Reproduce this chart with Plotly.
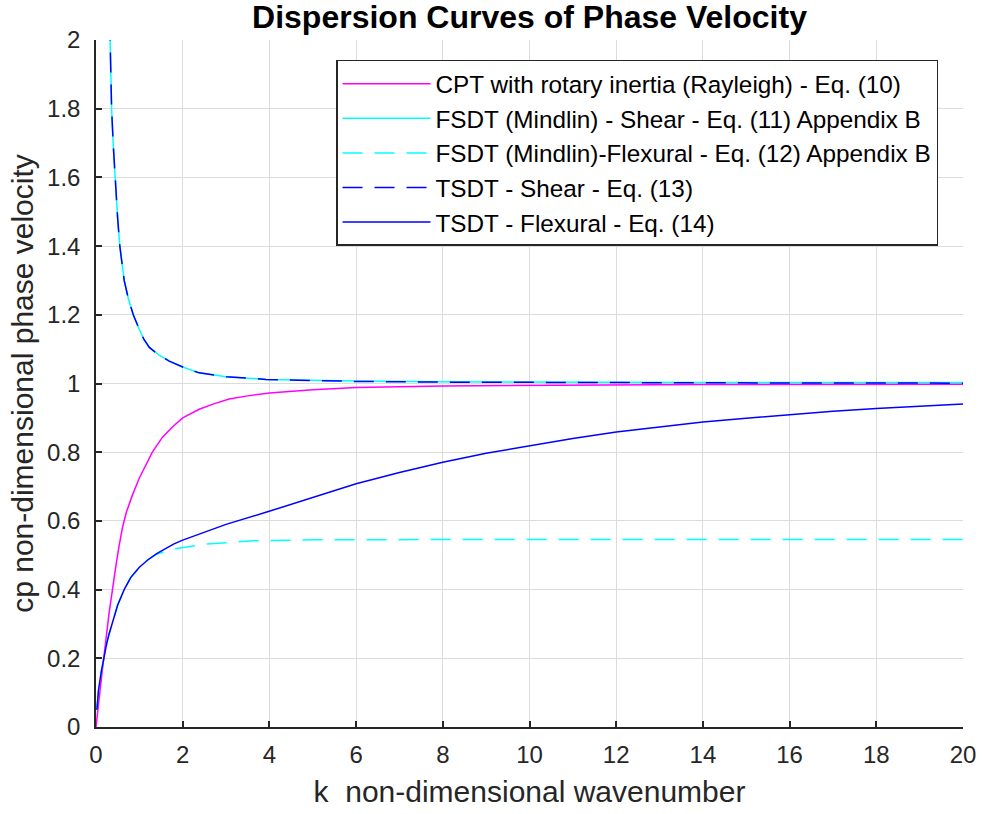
import plotly.graph_objects as go

# ---- data ----
k_cpt = [0, 0.05, 0.15, 0.3, 0.38, 0.46, 0.53, 0.61, 0.7, 0.84, 1.0, 1.15, 1.3, 1.53, 1.75, 2.0, 2.38, 2.7, 3.07, 3.5, 4.0, 5.0, 6.0, 8.0, 10.0, 14.0, 20.0]
c_cpt = [0, 0.06, 0.17, 0.33, 0.405, 0.47, 0.525, 0.58, 0.625, 0.675, 0.725, 0.765, 0.80, 0.843, 0.872, 0.90, 0.925, 0.94, 0.955, 0.964, 0.972, 0.982, 0.988, 0.993, 0.995, 0.997, 0.998]

k_shear = [0.30, 0.32, 0.34, 0.36, 0.40, 0.44, 0.50, 0.55, 0.60, 0.65, 0.75, 0.86, 0.99, 1.1, 1.23, 1.45, 1.69, 2.0, 2.38, 3.0, 3.92, 5.0, 6.0, 8.0, 10.0, 14.0, 20.0]
c_fsdt_shear = [2.15, 2.0, 1.89, 1.8, 1.69, 1.6, 1.48, 1.4, 1.345, 1.30, 1.245, 1.2, 1.16, 1.13, 1.105, 1.083, 1.065, 1.048, 1.031, 1.02, 1.012, 1.009, 1.007, 1.005, 1.004, 1.003, 1.003]
c_tsdt_shear = [2.15, 2.0, 1.89, 1.8, 1.69, 1.6, 1.48, 1.4, 1.345, 1.30, 1.245, 1.2, 1.16, 1.13, 1.105, 1.083, 1.065, 1.048, 1.031, 1.02, 1.012, 1.008, 1.006, 1.004, 1.003, 1.002, 1.001]

k_fsdt_flex = [0.02, 0.06, 0.12, 0.185, 0.25, 0.3, 0.4, 0.5, 0.65, 0.8, 1.0, 1.2, 1.4, 1.76, 2.5, 3.6, 5.0, 7.0, 10.0, 14.0, 20.0]
c_fsdt_flex = [0.05, 0.11, 0.16, 0.205, 0.245, 0.27, 0.315, 0.355, 0.40, 0.435, 0.465, 0.487, 0.503, 0.518, 0.532, 0.542, 0.545, 0.546, 0.546, 0.546, 0.546]

k_tsdt_flex = [0.02, 0.06, 0.12, 0.185, 0.25, 0.3, 0.4, 0.5, 0.65, 0.8, 1.0, 1.2, 1.4, 1.6, 1.8, 2.0, 2.38, 3.0, 3.92, 5.0, 6.0, 7.0, 8.0, 9.0, 10.0, 11.0, 12.0, 13.0, 14.0, 15.0, 16.0, 17.0, 18.0, 19.0, 20.0]
c_tsdt_flex = [0.05, 0.11, 0.16, 0.205, 0.245, 0.27, 0.315, 0.355, 0.40, 0.435, 0.465, 0.487, 0.505, 0.52, 0.533, 0.544, 0.562, 0.59, 0.625, 0.668, 0.708, 0.741, 0.771, 0.797, 0.819, 0.84, 0.859, 0.874, 0.888, 0.899, 0.910, 0.919, 0.927, 0.934, 0.940]

names = [
    "CPT with rotary inertia (Rayleigh) - Eq. (10)",
    "FSDT (Mindlin) - Shear - Eq. (11) Appendix B",
    "FSDT (Mindlin)-Flexural - Eq. (12) Appendix B",
    "TSDT - Shear - Eq. (13)",
    "TSDT - Flexural - Eq. (14)",
]

y_ticks = [0, 0.2, 0.4, 0.6, 0.8, 1, 1.2, 1.4, 1.6, 1.8, 2]
x_ticks = [0, 2, 4, 6, 8, 10, 12, 14, 16, 18, 20]

FONT = "Liberation Sans, Arial, Helvetica, sans-serif"
DASH = "20px,12px"
LW = 1.5

fig = go.Figure()
fig.add_trace(go.Scatter(x=k_cpt, y=c_cpt, mode="lines", name=names[0],
                         line=dict(color="#ff00ff", width=LW)))
fig.add_trace(go.Scatter(x=k_shear, y=c_fsdt_shear, mode="lines", name=names[1],
                         line=dict(color="#00ffff", width=LW)))
fig.add_trace(go.Scatter(x=k_fsdt_flex, y=c_fsdt_flex, mode="lines", name=names[2],
                         line=dict(color="#00ffff", width=LW, dash=DASH)))
fig.add_trace(go.Scatter(x=k_shear, y=c_tsdt_shear, mode="lines", name=names[3],
                         line=dict(color="#0000ff", width=LW, dash=DASH)))
fig.add_trace(go.Scatter(x=k_tsdt_flex, y=c_tsdt_flex, mode="lines", name=names[4],
                         line=dict(color="#0000ff", width=LW)))

axis_common = dict(
    showgrid=True, gridcolor="#dcdcdc", gridwidth=1,
    showline=True, linecolor="#262626", linewidth=1.5,
    ticks="inside", ticklen=6, tickcolor="#262626", tickwidth=1.5,
    zeroline=False, mirror=False, automargin=False,
    tickfont=dict(family=FONT, size=24, color="#262626"),
)

fig.update_layout(
    width=982, height=814,
    margin=dict(l=96, r=19, t=40, b=87, autoexpand=False),
    paper_bgcolor="white", plot_bgcolor="white",
    font=dict(family=FONT, color="#262626"),
    title=dict(text="<b>Dispersion Curves of Phase Velocity</b>",
               font=dict(family=FONT, size=32, color="black"),
               x=0.5, xref="paper", y=1 - 17 / 814, yref="container",
               xanchor="center", yanchor="middle", automargin=False),
    xaxis=dict(range=[0, 20], tickvals=x_ticks, ticklabelstandoff=5,
               title=dict(text="k  non-dimensional wavenumber",
                          font=dict(family=FONT, size=30, color="#262626"), standoff=14),
               **axis_common),
    yaxis=dict(range=[0, 2], tickvals=y_ticks, ticklabelstandoff=9,
               title=dict(text="cp non-dimensional phase velocity",
                          font=dict(family=FONT, size=30, color="#262626"), standoff=5),
               **axis_common),
    legend=dict(x=0.9712, y=0.971, xanchor="right", yanchor="top",
                bgcolor="white", bordercolor="#262626", borderwidth=1.5,
                font=dict(family=FONT, size=24.3, color="black"),
                itemwidth=88, tracegroupgap=0),
    showlegend=True,
)

fig.write_html("out.html")
